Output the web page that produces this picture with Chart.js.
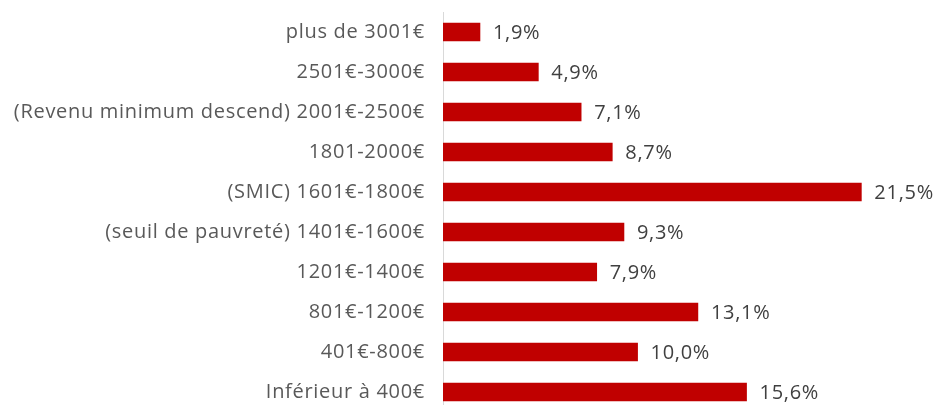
<!DOCTYPE html>
<html>
<head>
<meta charset="utf-8">
<script src="https://cdn.jsdelivr.net/npm/chart.js@4"></script>
<style>
    html, body { margin: 0; padding: 0; background: #fff; overflow: hidden; }
    #wrap { width: 939px; height: 412px; position: relative; }
</style>
</head>
<body>
<div id="wrap"><canvas id="incomeChart"></canvas></div>
<script>
const categories = [
    "plus de 3001€",
    "2501€-3000€",
    "(Revenu minimum descend) 2001€-2500€",
    "1801-2000€",
    "(SMIC) 1601€-1800€",
    "(seuil de pauvreté) 1401€-1600€",
    "1201€-1400€",
    "801€-1200€",
    "401€-800€",
    "Inférieur à 400€"
];
const shares = [1.9, 4.9, 7.1, 8.7, 21.5, 9.3, 7.9, 13.1, 10.0, 15.6];

const fontFamily = '"Open Sans", Lato, sans-serif';

//..reference text is a bit wider than Open Sans, so spread it a little
const wideText = {
    id: 'wideText',
    beforeDraw(chart) {
        chart.ctx.letterSpacing = '0.7px';
    }
};

//..value labels after each bar
const valueLabels = {
    id: 'valueLabels',
    afterDatasetsDraw(chart) {
        const ctx = chart.ctx;
        const meta = chart.getDatasetMeta(0);
        ctx.save();
        ctx.font = '20px ' + fontFamily;
        ctx.fillStyle = '#404040';
        ctx.textAlign = 'left';
        ctx.textBaseline = 'middle';
        meta.data.forEach((bar, i) => {
            const txt = shares[i].toFixed(1).replace('.', ',') + '%';
            ctx.fillText(txt, bar.x + 13, bar.y + 1);
        });
        ctx.restore();
    }
};

new Chart(document.getElementById('incomeChart'), {
    type: 'bar',
    data: {
        labels: categories,
        datasets: [{
            data: shares,
            backgroundColor: '#C00000',
            barThickness: 18
        }]
    },
    options: {
        indexAxis: 'y',
        responsive: true,
        maintainAspectRatio: false,
        animation: false,
        layout: { padding: { top: 12, right: 29, bottom: 0, left: 0 } },
        plugins: {
            legend: { display: false },
            tooltip: { enabled: false }
        },
        scales: {
            x: {
                display: false,
                min: 0,
                max: 24
            },
            y: {
                afterFit(scale) {
                    scale.width = 443;
                    scale.paddingTop = 0;
                    scale.paddingBottom = 0;
                },
                grid: { display: false },
                border: { display: true, color: '#d9d9d9', width: 1 },
                ticks: {
                    color: '#595959',
                    padding: 10,
                    font: { family: fontFamily, size: 20 }
                }
            }
        }
    },
    plugins: [wideText, valueLabels]
});
</script>
</body>
</html>
